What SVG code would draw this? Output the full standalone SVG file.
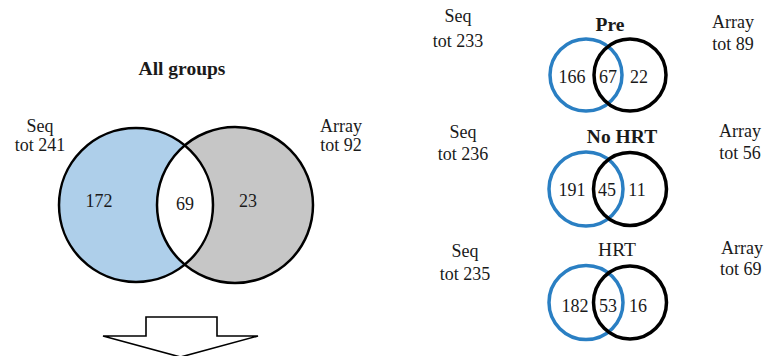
<svg xmlns="http://www.w3.org/2000/svg" width="766" height="356" viewBox="0 0 766 356">
  <style>
    text { font-family: "Liberation Serif", "Times New Roman", serif; fill: #1a1a1a; text-anchor: middle; }
    .lbl { font-size: 18px; }
    .num { font-size: 18px; }
    .title { font-size: 19.5px; font-weight: bold; }
    .edge { fill: none; stroke: #000; stroke-width: 2.5; }
    .ring-seq { fill: none; stroke: #2a7fc3; stroke-width: 3.5; }
    .ring-arr { fill: none; stroke: #000; stroke-width: 3.5; }
  </style>

  <!-- Overall comparison -->
  <g id="all-groups">
    <text class="title" x="182" y="75">All groups</text>
    <circle cx="136" cy="205" r="77" fill="#aecfea"/>
    <circle cx="235" cy="205" r="78" fill="#c6c6c6"/>
    <path d="M184.7,145.4 A77,77 0 0 1 184.7,264.6 A78,78 0 0 1 184.7,145.4 Z" fill="#ffffff"/>
    <circle class="edge" cx="136" cy="205" r="77"/>
    <circle class="edge" cx="235" cy="205" r="78"/>
    <text class="lbl" x="40" y="132">Seq</text>
    <text class="lbl" x="40" y="151">tot 241</text>
    <text class="lbl" x="341" y="132">Array</text>
    <text class="lbl" x="341" y="151">tot 92</text>
    <text class="num" x="99" y="207">172</text>
    <text class="num" x="185" y="210">69</text>
    <text class="num" x="248" y="207">23</text>
  </g>

  <!-- Block arrow pointing down -->
  <g id="arrow">
    <path d="M146,317 H217 V336 H258 L180.5,357 L103,336 H146 Z" fill="#ffffff" stroke="#000" stroke-width="1.6" stroke-linejoin="miter"/>
  </g>

  <!-- Pre -->
  <g id="pre">
    <text class="title" x="610" y="31">Pre</text>
    <text class="lbl" x="458" y="22">Seq</text>
    <text class="lbl" x="458" y="47">tot 233</text>
    <text class="lbl" x="733" y="28">Array</text>
    <text class="lbl" x="733" y="50">tot 89</text>
    <circle class="ring-seq" cx="586" cy="75" r="36"/>
    <circle class="ring-arr" cx="630" cy="75" r="36"/>
    <text class="num" x="572" y="83">166</text>
    <text class="num" x="608" y="83">67</text>
    <text class="num" x="639" y="83">22</text>
  </g>

  <!-- No HRT -->
  <g id="no-hrt">
    <text class="title" x="622" y="143">No HRT</text>
    <text class="lbl" x="463" y="138">Seq</text>
    <text class="lbl" x="463" y="160">tot 236</text>
    <text class="lbl" x="740" y="137">Array</text>
    <text class="lbl" x="740" y="159">tot 56</text>
    <circle class="ring-seq" cx="586" cy="189" r="37"/>
    <circle class="ring-arr" cx="630" cy="189" r="36.5"/>
    <text class="num" x="572" y="196">191</text>
    <text class="num" x="607" y="196">45</text>
    <text class="num" x="637" y="196">11</text>
  </g>

  <!-- HRT -->
  <g id="hrt">
    <text class="title" x="617" y="256" style="font-weight:normal">HRT</text>
    <text class="lbl" x="465" y="257">Seq</text>
    <text class="lbl" x="465" y="280">tot 235</text>
    <text class="lbl" x="721" y="254" style="text-anchor:start">Array</text>
    <text class="lbl" x="720" y="275" style="text-anchor:start">tot 69</text>
    <circle class="ring-seq" cx="586" cy="302.5" r="37"/>
    <circle class="ring-arr" cx="630" cy="302.5" r="36.5"/>
    <text class="num" x="575" y="312">182</text>
    <text class="num" x="608" y="312">53</text>
    <text class="num" x="638" y="312">16</text>
  </g>
</svg>
